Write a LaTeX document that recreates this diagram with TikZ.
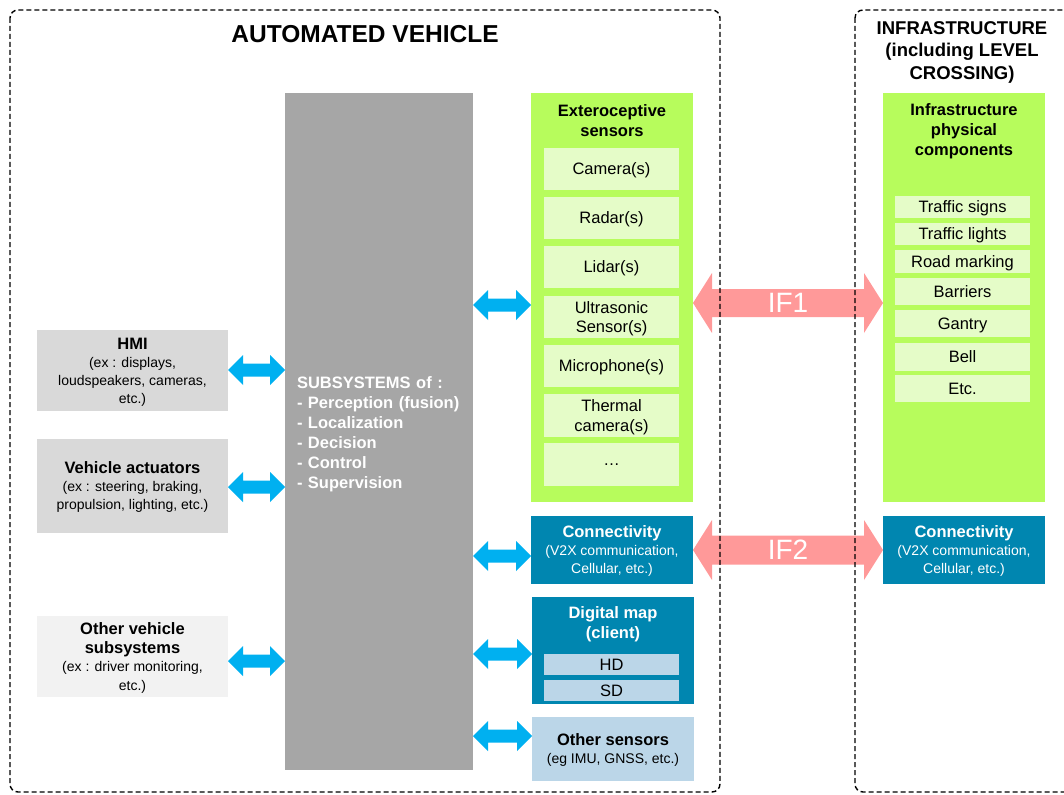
\documentclass[tikz,border=0pt]{standalone}
\usepackage{fontspec}
\setmainfont{Liberation Sans}
\usetikzlibrary{calc}
\definecolor{cgray}{HTML}{A6A6A6}
\definecolor{clgray}{HTML}{D9D9D9}
\definecolor{cvlgray}{HTML}{F2F2F2}
\definecolor{cblue}{HTML}{00B0F0}
\definecolor{cgreen}{HTML}{B7FC5C}
\definecolor{clgreen}{HTML}{E5FCC8}
\definecolor{cteal}{HTML}{0086B0}
\definecolor{clblue}{HTML}{BBD6E8}
\definecolor{cpink}{HTML}{FF9999}
\newcommand{\tit}[1]{{\bfseries\fontsize{16.5}{18}\selectfont #1}}
% double block arrow: style, start, end, half head, half shaft, head length
\newcommand{\dblarr}[6]{%
\fill[#1] let \p1=(#2), \p2=(#3) in
 (\x1,\y1) -- (\x1+#6,\y1+#4) -- (\x1+#6,\y1+#5) -- (\x2-#6,\y2+#5) -- (\x2-#6,\y2+#4)
 -- (\x2,\y2) -- (\x2-#6,\y2-#4) -- (\x2-#6,\y2-#5) -- (\x1+#6,\y1-#5) -- (\x1+#6,\y1-#4) -- cycle;}
\begin{document}
\begin{tikzpicture}[x=1pt,y=-1pt,
  blk/.style={inner sep=0pt, outer sep=0pt, anchor=north west, align=center, text depth=0pt,
    font=\fontsize{16.5}{19.5}\selectfont},
  lbox/.style={blk, font=\fontsize{14}{18}\selectfont},
  sbox/.style={blk, fill=clgreen, minimum width=135pt},
  ibox/.style={blk, fill=clgreen, minimum width=135pt},
  frame/.style={line width=1.4pt, dash pattern=on 5pt off 3pt, rounded corners=8pt},
  ttl/.style={align=center, inner sep=0pt, font=\bfseries\fontsize{16.5}{20}\selectfont}]
\clip (0,0) rectangle (1064,794);
\fill[white] (0,0) rectangle (1064,794);

% titles
\node[inner sep=0pt, font=\bfseries\fontsize{24.5}{28}\selectfont] (title) at (365,34) {AUTOMATED VEHICLE};
\node[align=center, inner sep=0pt, font=\bfseries\fontsize{18.5}{22.5}\selectfont] (title2) at (962,52)
  {INFRASTRUCTURE\\(including LEVEL\\CROSSING)};

% central subsystems block
\node[inner xsep=12pt, inner ysep=0pt, outer sep=0pt, anchor=north west, fill=cgray,
  minimum width=188pt, minimum height=677pt, text width=164pt, text height=18pt, align=left, text=white,
  font=\bfseries\fontsize{16.5}{20}\selectfont] (gray) at (285,93)
  {SUBSYSTEMS of :\\- Perception (fusion)\\- Localization\\- Decision\\- Control\\- Supervision};

% left boxes
\node[lbox, fill=clgray, minimum width=191pt, minimum height=81pt] (hmi) at (37,330)
  {\tit{HMI}\\(ex : displays,\\loudspeakers, cameras,\\etc.)};
\node[lbox, fill=clgray, minimum width=191pt, minimum height=94pt] (act) at (37,439)
  {\tit{Vehicle actuators}\\(ex : steering, braking,\\propulsion, lighting, etc.)};
\node[lbox, fill=cvlgray, minimum width=191pt, minimum height=81pt, font=\fontsize{14}{18.5}\selectfont] (oth) at (37,616)
  {\tit{Other vehicle}\\\tit{subsystems}\\(ex : driver monitoring,\\etc.)};

% exteroceptive sensors
\node[blk, fill=cgreen, minimum width=162pt, minimum height=409pt] (sens) at (531,93) {};
\node[ttl] (senst) at (612,121) {Exteroceptive\\sensors};
\node[sbox, minimum height=42pt] (cam) at (544,148) {Camera(s)};
\node[sbox, minimum height=42pt] (rad) at (544,197) {Radar(s)};
\node[sbox, minimum height=42pt] (lid) at (544,246) {Lidar(s)};
\node[sbox, minimum height=42pt] (ult) at (544,296) {Ultrasonic\\Sensor(s)};
\node[sbox, minimum height=42pt] (mic) at (544,345) {Microphone(s)};
\node[sbox, minimum height=43pt] (thm) at (544,394) {Thermal\\camera(s)};
\node[sbox, minimum height=43pt] (dots) at (544,443) {…};

% infrastructure components
\node[blk, fill=cgreen, minimum width=162pt, minimum height=409pt] (infra) at (883,93) {};
\node[ttl] (infrat) at (964,131) {Infrastructure\\physical\\components};
\node[ibox, minimum height=22pt] (ts) at (895,196) {Traffic signs};
\node[ibox, minimum height=22pt] (tl) at (895,223) {Traffic lights};
\node[ibox, minimum height=23pt] (rm) at (895,250) {Road marking};
\node[ibox, minimum height=27pt] (ba) at (895,278) {Barriers};
\node[ibox, minimum height=27pt] (ga) at (895,310) {Gantry};
\node[ibox, minimum height=28pt] (be) at (895,343) {Bell};
\node[ibox, minimum height=27pt] (et) at (895,375) {Etc.};

% connectivity
\node[lbox, fill=cteal, text=white, minimum width=162pt, minimum height=68pt] (con1) at (531,516)
  {\tit{Connectivity}\\(V2X communication,\\Cellular, etc.)};
\node[lbox, fill=cteal, text=white, minimum width=162pt, minimum height=68pt] (con2) at (883,516)
  {\tit{Connectivity}\\(V2X communication,\\Cellular, etc.)};

% digital map
\node[blk, fill=cteal, minimum width=162pt, minimum height=107pt] (dm) at (532,597) {};
\node[ttl, text=white] (dmt) at (613,624) {Digital map\\(client)};
\node[blk, fill=clblue, minimum width=135pt, minimum height=21pt] (hd) at (544,654) {HD};
\node[blk, fill=clblue, minimum width=135pt, minimum height=21pt] (sd) at (544,680) {SD};

% other sensors
\node[lbox, fill=clblue, minimum width=162pt, minimum height=64pt] (os) at (532,717)
  {\tit{Other sensors}\\(eg IMU, GNSS, etc.)};

% arrow heights
\coordinate (yh) at (0,370);
\coordinate (ya) at (0,487);
\coordinate (yo) at (0,661);
\coordinate (ys) at (0,305);
\coordinate (yc) at (0,556);
\coordinate (yd) at (0,654);
\coordinate (yos) at (0,736);
\coordinate (yi1) at (0,303);
\coordinate (yi2) at (0,550);

% blue arrows
\dblarr{cblue}{hmi.east |- yh}{gray.west |- yh}{15pt}{6.5pt}{15pt}
\dblarr{cblue}{act.east |- ya}{gray.west |- ya}{15pt}{6.5pt}{15pt}
\dblarr{cblue}{oth.east |- yo}{gray.west |- yo}{15pt}{6.5pt}{15pt}
\dblarr{cblue}{gray.east |- ys}{sens.west |- ys}{15pt}{6.5pt}{15pt}
\dblarr{cblue}{gray.east |- yc}{con1.west |- yc}{15pt}{6.5pt}{15pt}
\dblarr{cblue}{gray.east |- yd}{dm.west |- yd}{15pt}{6.5pt}{15pt}
\dblarr{cblue}{gray.east |- yos}{os.west |- yos}{15pt}{6.5pt}{15pt}

% interface arrows
\dblarr{cpink}{sens.east |- yi1}{infra.west |- yi1}{30pt}{14pt}{19pt}
\dblarr{cpink}{con1.east |- yi2}{con2.west |- yi2}{30pt}{14.5pt}{19pt}
\node[text=white, inner sep=0pt, font=\fontsize{28}{28}\selectfont] (if1)
  at ($(sens.east |- yi1)!0.5!(infra.west |- yi1)$) {IF1};
\node[text=white, inner sep=0pt, font=\fontsize{28}{28}\selectfont] (if2)
  at ($(con1.east |- yi2)!0.5!(con2.west |- yi2)$) {IF2};

% dashed frames
\draw[frame] (10,10) rectangle (720,792);
\draw[frame] (855,10) rectangle (1090,792);
\end{tikzpicture}
\end{document}
